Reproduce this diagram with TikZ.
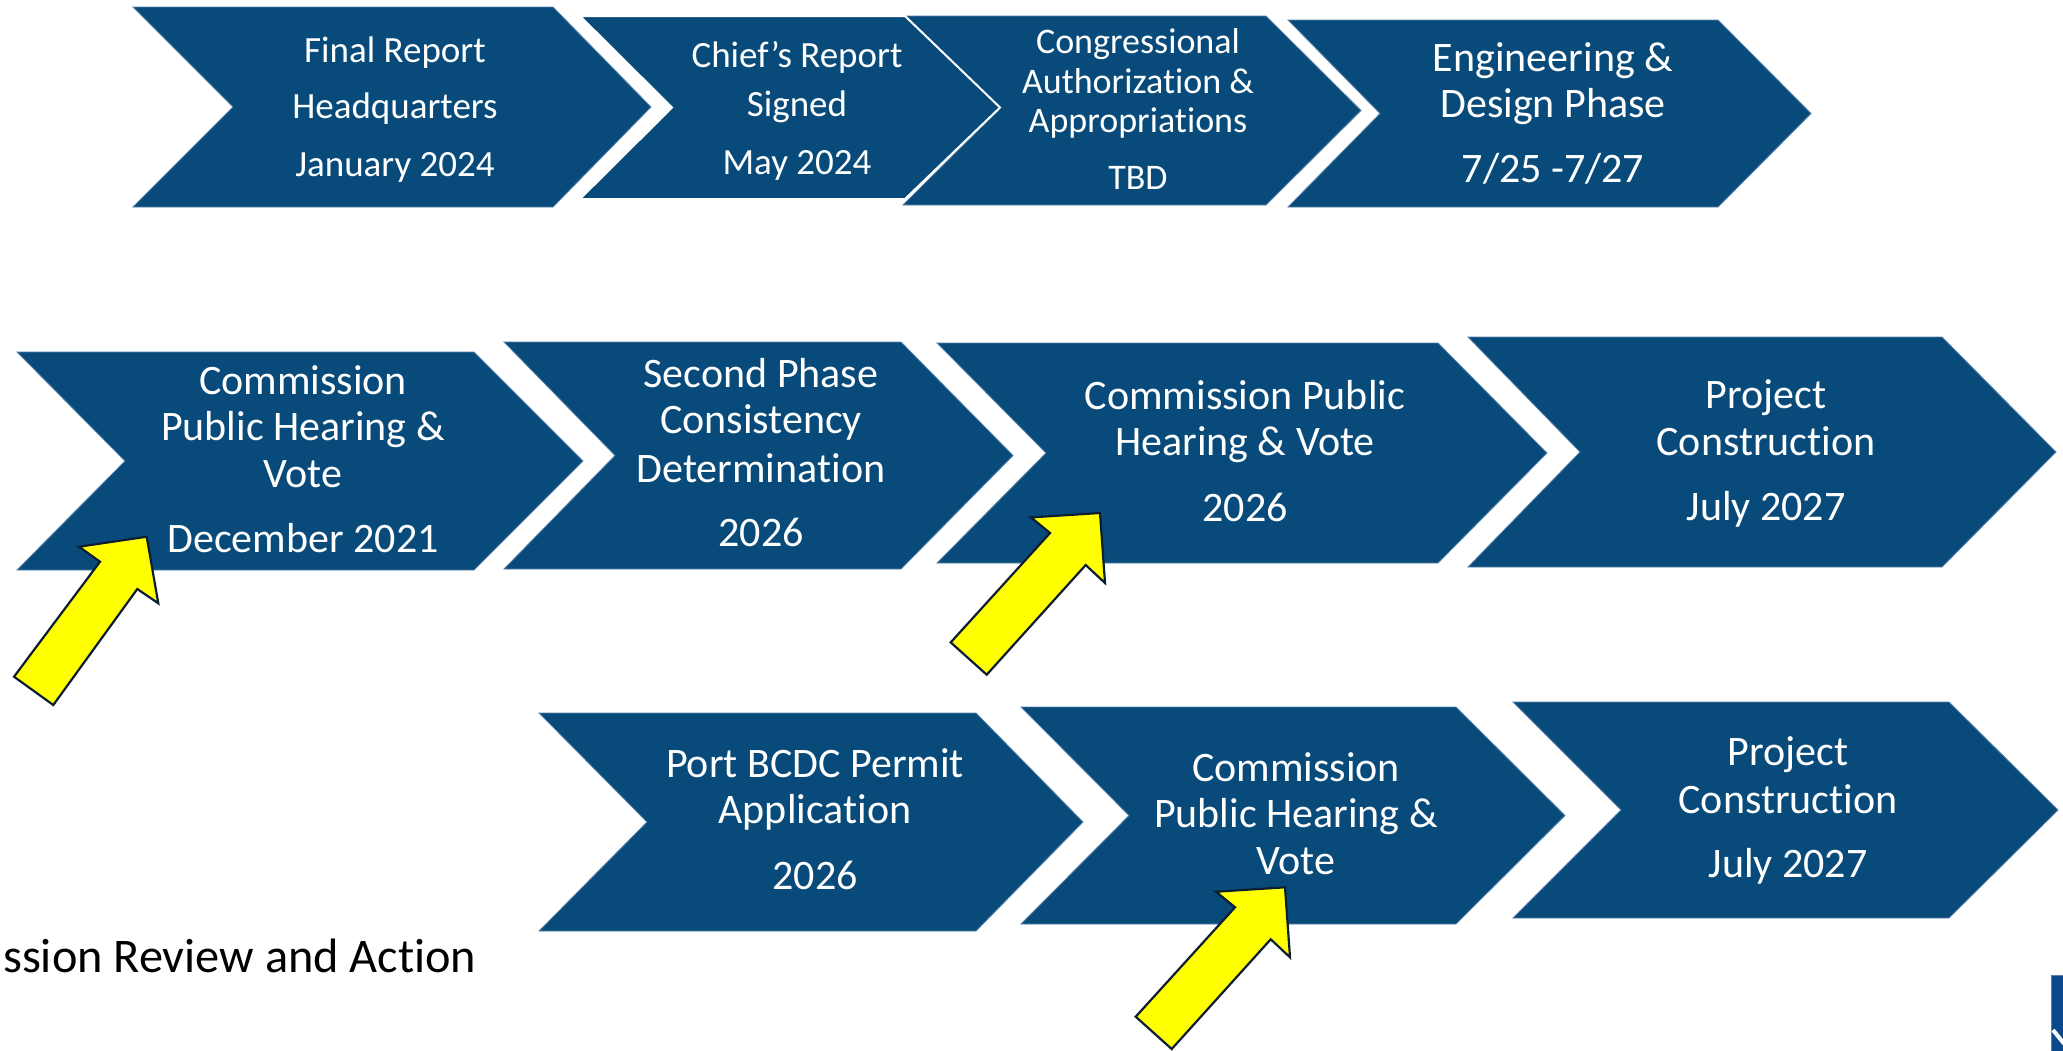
\documentclass[tikz,border=0pt]{standalone}
\usepackage{fontspec}
\setmainfont{Carlito}[Ligatures=NoCommon]
\definecolor{chevblue}{RGB}{8,75,123}
\definecolor{chevedge}{RGB}{86,128,170}
\definecolor{logoblue}{RGB}{12,72,140}
\definecolor{arrowedge}{RGB}{14,30,50}
\definecolor{arrowfill}{RGB}{255,255,0}
\newcommand{\fsA}{\fontsize{37}{40}\selectfont}
\newcommand{\fsB}{\fontsize{36}{40}\selectfont}
\newcommand{\fsC}{\fontsize{42}{46}\selectfont}
\newcommand{\fsD}{\fontsize{48.3}{52}\selectfont}
% chevron: left, notch, body right, tip, top, bottom
\newcommand{\chevshape}[7][]{%
  \path[chev,#1] (#2,#6) -- (#4,#6) -- (#5,{(#6+#7)/2}) -- (#4,#7) -- (#2,#7) -- (#3,{(#6+#7)/2}) -- cycle;}
% block arrow pointing up-right, given by its tip
\newcommand{\hiarrow}[3]{%
  \path[hiarr,shift={(#1,#2)},#3] (0,0) -- (5,70) -- (-14.3,52) -- (-113.3,161.7) -- (-149.3,129.4) -- (-50,20) -- (-69,4.4) -- cycle;}
\begin{document}
\begin{tikzpicture}[x=1pt,y=-1pt,
  chev/.style={fill=chevblue,draw=chevedge,line width=0.8pt,line join=miter},
  hiarr/.style={fill=arrowfill,draw=arrowedge,line width=2.2pt,line join=miter},
  lbl/.style={anchor=base,text=white,inner sep=0pt,outer sep=0pt}]
\useasboundingbox (0,0) rectangle (2063,1050);
\fill[white] (0,0) rectangle (2063,1050);

% ---------- first row ----------
\chevshape{133}{233}{553}{651}{7}{207}
\chevshape{903}{998}{1266}{1361}{16}{205}
\chevshape[draw=white,line width=2pt]{580}{672}{905}{1000}{16}{199}
\chevshape{1288}{1380}{1718}{1811}{20}{207}

\node[lbl,font=\fsA] (a1) at (395,62) {Final Report};
\node[lbl,font=\fsA] (a2) at (395,118) {Headquarters};
\node[lbl,font=\fsA] (a3) at (395,176) {January 2024};

\node[lbl,font=\fsA] (b1) at (797,67) {Chief’s Report};
\node[lbl,font=\fsA] (b2) at (797,116) {Signed};
\node[lbl,font=\fsA] (b3) at (797,174) {May 2024};

\node[lbl,font=\fsB] (c1) at (1138,53) {Congressional};
\node[lbl,font=\fsB] (c2) at (1138,93) {Authorization \&};
\node[lbl,font=\fsB] (c3) at (1138,132) {Appropriations};
\node[lbl,font=\fsB] (c4) at (1138,189) {TBD};

\node[lbl,font=\fsC] (d1) at (1553,71) {Engineering \&};
\node[lbl,font=\fsC] (d2) at (1553,117) {Design Phase};
\node[lbl,font=\fsC] (d3) at (1553,182) {7/25 -7/27};

% ---------- second row ----------
\chevshape{17}{125}{474}{583}{352}{570}
\chevshape{504}{615}{901}{1013}{342}{569}
\chevshape{937}{1046}{1438}{1547}{343}{563}
\chevshape{1468}{1580}{1942}{2056}{337}{567}

\node[lbl,font=\fsC] (e1) at (303,394) {Commission};
\node[lbl,font=\fsC] (e2) at (303,440) {Public Hearing \&};
\node[lbl,font=\fsC] (e3) at (303,487) {Vote};
\node[lbl,font=\fsC] (e4) at (303,552) {December 2021};

\node[lbl,font=\fsC] (f1) at (761,387) {Second Phase};
\node[lbl,font=\fsC] (f2) at (761,433) {Consistency};
\node[lbl,font=\fsC] (f3) at (761,482) {Determination};
\node[lbl,font=\fsC] (f4) at (761,546) {2026};

\node[lbl,font=\fsC] (g1) at (1245,409) {Commission Public};
\node[lbl,font=\fsC] (g2) at (1245,455) {Hearing \& Vote};
\node[lbl,font=\fsC] (g3) at (1245,521) {2026};

\node[lbl,font=\fsC] (h1) at (1766,408) {Project};
\node[lbl,font=\fsC] (h2) at (1766,455) {Construction};
\node[lbl,font=\fsC] (h3) at (1766,520) {July 2027};

% ---------- third row ----------
\chevshape{539}{647}{976}{1083}{713}{931}
\chevshape{1021}{1129}{1456}{1565}{707}{924}
\chevshape{1513}{1621}{1949}{2058}{702}{918}

\node[lbl,font=\fsC] (i1) at (815,777) {Port BCDC Permit};
\node[lbl,font=\fsC] (i2) at (815,823) {Application};
\node[lbl,font=\fsC] (i3) at (815,889) {2026};

\node[lbl,font=\fsC] (j1) at (1296,781) {Commission};
\node[lbl,font=\fsC] (j2) at (1296,827) {Public Hearing \&};
\node[lbl,font=\fsC] (j3) at (1296,874) {Vote};

\node[lbl,font=\fsC] (k1) at (1788,765) {Project};
\node[lbl,font=\fsC] (k2) at (1788,813) {Construction};
\node[lbl,font=\fsC] (k3) at (1788,877) {July 2027};

% ---------- highlight arrows ----------
\path[hiarr] (146.7,536.7) -- (158.3,603.3) -- (137.3,589) -- (53.3,705) -- (14,676.7) -- (100,561.7) -- (79,546.7) -- cycle;
\hiarrow{1100}{513}{}
\hiarrow{1285}{887.3}{}

% ---------- caption and corner mark ----------
\node[anchor=base west,inner sep=0pt,font=\fsD] (cap) at (3,972) {ssion Review and Action};
\fill[logoblue,draw=chevedge,line width=0.8pt] (2051,975) rectangle (2066,1053);
\draw[white,line width=4pt] (2053,1030) -- (2066,1046);
\end{tikzpicture}
\end{document}
